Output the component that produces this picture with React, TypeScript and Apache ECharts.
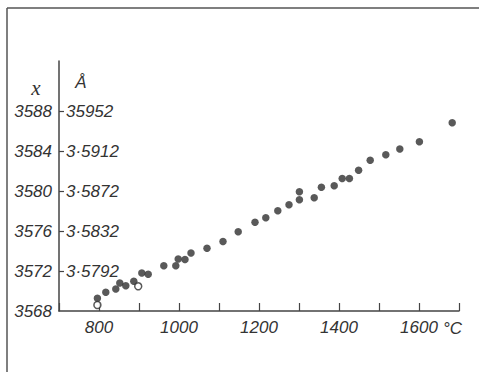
import React, { useEffect, useRef } from "react";
import * as echarts from "echarts";

// Temperature (°C) and lattice value (x)
const filledT = [796, 817, 842, 852, 867, 887, 907, 923, 962, 992, 998, 1015, 1030, 1070, 1110, 1148, 1190, 1217, 1247, 1275, 1301, 1301, 1338, 1356, 1388, 1408, 1426, 1449, 1478, 1517, 1552, 1601, 1683];
const filledX = [3569.27, 3569.87, 3570.2, 3570.8, 3570.53, 3570.97, 3571.8, 3571.67, 3572.53, 3572.53, 3573.2, 3573.15, 3573.8, 3574.27, 3574.95, 3575.93, 3576.87, 3577.33, 3578.03, 3578.62, 3579.12, 3579.93, 3579.32, 3580.38, 3580.52, 3581.25, 3581.25, 3582.07, 3583.07, 3583.63, 3584.2, 3584.93, 3586.83];
const openT = [796, 898];
const openX = [3568.6, 3570.47];

const xTickLabels = [800, 1000, 1200, 1400, 1600];
const yLeftLabels = [3568, 3572, 3576, 3580, 3584, 3588];
const yRightValues = [3572, 3576, 3580, 3584, 3588];
const yRightLabels = ["3·5792", "3·5832", "3·5872", "3·5912", "35952"];

const FONT = "'Liberation Sans', 'DejaVu Sans', sans-serif";
const INK = "#2f2f2f";

export default function App() {
  const ref = useRef<HTMLDivElement>(null);
  useEffect(() => {
    document.body.style.margin = "0";
    const chart = echarts.init(ref.current!, null, { renderer: "svg" });
    const labelStyle = { fontFamily: FONT, fontStyle: "italic" as const, fontSize: 17, color: "#333" };
    chart.setOption({
      animation: false,
      backgroundColor: "#fff",
      grid: { left: 59, right: 20, top: 61, bottom: 61 },
      xAxis: {
        type: "value",
        min: 700,
        max: 1700,
        interval: 100,
        splitLine: { show: false },
        axisLine: { show: true, lineStyle: { color: "#444", width: 1.5 } },
        axisTick: { show: true, inside: true, length: 8, lineStyle: { color: "#444", width: 1.2 } },
        axisLabel: {
          ...labelStyle,
          margin: 8,
          formatter: (v: number) => (xTickLabels.includes(v) ? String(v) : ""),
        },
      },
      yAxis: [
        {
          type: "value",
          min: 3568,
          max: 3593,
          position: "left",
          splitLine: { show: false },
          axisLine: { show: true, lineStyle: { color: "#444", width: 1.5 } },
          axisTick: { show: false },
          axisLabel: {
            ...labelStyle,
            margin: 7,
            customValues: yLeftLabels,
            formatter: (v: number) => String(v),
          },
        },
        {
          type: "value",
          min: 3568,
          max: 3593,
          position: "left",
          splitLine: { show: false },
          axisLine: { show: false },
          axisTick: { show: true, inside: true, length: 5, customValues: yRightValues, lineStyle: { color: "#444", width: 1.2 } },
          axisLabel: {
            ...labelStyle,
            inside: true,
            margin: 7,
            customValues: yRightValues,
            formatter: (v: number) => {
              const i = yRightValues.indexOf(v);
              return i >= 0 ? yRightLabels[i] : "";
            },
          },
        },
      ],
      series: [
        {
          type: "scatter",
          data: filledT.map((t, i) => [t, filledX[i]]),
          symbol: "circle",
          symbolSize: 7.5,
          itemStyle: { color: INK },
        },
        {
          type: "scatter",
          data: openT.map((t, i) => [t, openX[i]]),
          symbol: "circle",
          symbolSize: 7,
          itemStyle: { color: "#fff", borderColor: INK, borderWidth: 1.5 },
        },
      ],
      graphic: [
        { type: "line", shape: { x1: 7, y1: 8, x2: 479, y2: 8 }, style: { stroke: "#555", lineWidth: 1.5 } },
        { type: "line", shape: { x1: 7, y1: 8, x2: 7, y2: 372 }, style: { stroke: "#555", lineWidth: 1.5 } },
        {
          type: "text",
          x: 36,
          y: 88,
          style: { text: "x", font: "italic 21px 'Liberation Serif', 'DejaVu Serif', serif", fill: "#333", textAlign: "center", textVerticalAlign: "middle" },
        },
        {
          type: "text",
          x: 81,
          y: 82,
          style: { text: "Å", font: "italic 17px " + FONT, fill: "#333", textAlign: "center", textVerticalAlign: "middle" },
        },
        {
          type: "text",
          x: 443,
          y: 328,
          style: { text: "°C", font: "italic 17px " + FONT, fill: "#333", textAlign: "left", textVerticalAlign: "middle" },
        },
      ],
    });
    return () => chart.dispose();
  }, []);
  return <div ref={ref} style={{ width: 479, height: 372 }} />;
}
